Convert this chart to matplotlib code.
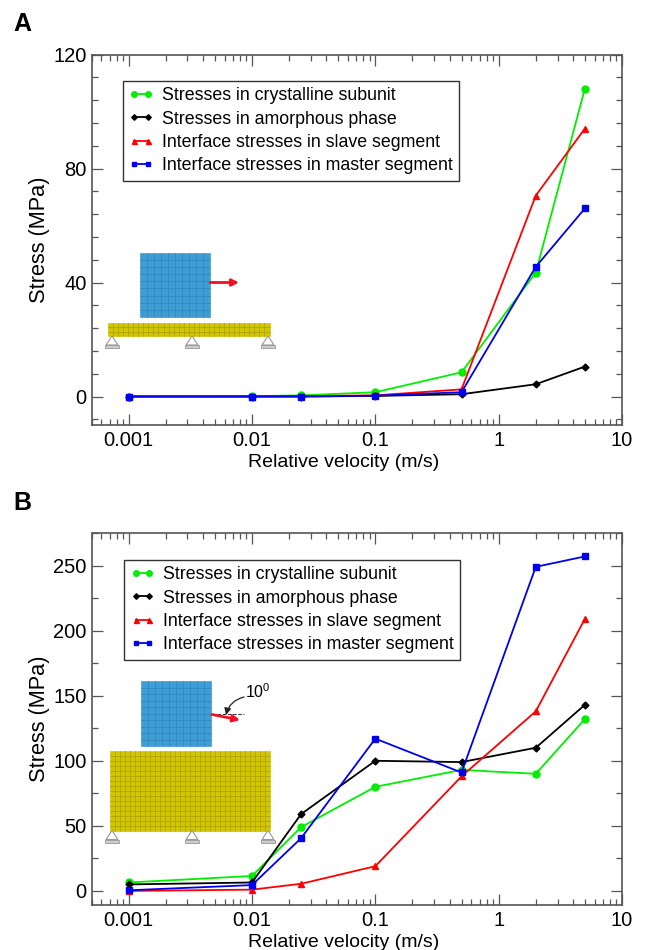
import numpy as np
import matplotlib
matplotlib.use("Agg")
import matplotlib.pyplot as plt
from matplotlib.patches import Rectangle, Polygon
from matplotlib.ticker import FixedLocator, FixedFormatter, MultipleLocator, NullFormatter

plt.rcParams['font.family'] = ['Liberation Sans', 'DejaVu Sans']

velocity = [0.001, 0.01, 0.025, 0.1, 0.5, 2, 5]
x_ticks = [0.001, 0.01, 0.1, 1, 10]
x_labels = ['0.001', '0.01', '0.1', '1', '10']

names = ['Stresses in crystalline subunit', 'Stresses in amorphous phase',
         'Interface stresses in slave segment', 'Interface stresses in master segment']

a_crystal = [0, 0.1, 0.4, 1.5, 8.5, 43.5, 108]
a_amorph = [0, 0, 0, 0.2, 0.8, 4.3, 10.5]
a_slave = [0, 0, 0.1, 0.4, 2.5, 70.5, 94]
a_master = [0, 0, 0, 0.3, 1.5, 45.5, 66]

b_crystal = [6.5, 11.5, 49, 80, 93, 90, 132]
b_amorph = [5, 6.5, 59, 100, 99, 110, 143]
b_slave = [0, 1, 5.5, 19, 88, 138, 209]
b_master = [0.5, 4.5, 40.5, 117, 91, 249, 257]

W, H = 645, 950
GREY = '#555555'


def pixel_rect(x0, y0, x1, y1):
    return [x0 / W, 1 - y1 / H, (x1 - x0) / W, (y1 - y0) / H]


def draw_panel(ax, series, ylim, yticks, yminor, legend_pos):
    styles = [('#00ee00', 'o', 5), ('black', 'D', 3.5), ('red', '^', 4.5), ('#0000ee', 's', 4)]
    for vals, name, (col, mk, ms) in zip(series, names, styles):
        ax.plot(velocity, vals, color=col, marker=mk, ms=ms, lw=1.3, label=name, clip_on=False)
    ax.set_xscale('log')
    ax.set_xlim(0.0005, 10)
    ax.set_ylim(*ylim)
    ax.xaxis.set_major_locator(FixedLocator(x_ticks))
    ax.xaxis.set_major_formatter(FixedFormatter(x_labels))
    ax.xaxis.set_minor_locator(FixedLocator(
        [m * 10.0 ** e for e in range(-4, 1) for m in range(2, 10)]))
    ax.xaxis.set_minor_formatter(NullFormatter())
    ax.set_yticks(yticks)
    ax.yaxis.set_minor_locator(MultipleLocator(yminor))
    ax.tick_params(which='major', direction='in', length=8, width=0.9, color=GREY,
                   top=True, right=True, labelsize=14.5)
    ax.tick_params(axis='y', which='major', pad=3.5)
    ax.tick_params(axis='x', which='major', pad=4)
    ax.tick_params(which='minor', direction='in', length=4, width=0.9, color=GREY,
                   top=True, right=True)
    for s in ax.spines.values():
        s.set_color(GREY)
        s.set_linewidth(1.2)
    ax.set_xlabel('Relative velocity (m/s)', fontsize=14, labelpad=0)
    ax.xaxis.set_label_coords(0.476, -0.077)
    ax.set_ylabel('Stress (MPa)', fontsize=15.7)
    ax.yaxis.set_label_coords(-0.078, 0.5)
    leg = ax.legend(loc='upper left', bbox_to_anchor=legend_pos, fontsize=12.8, fancybox=False,
                    framealpha=1, edgecolor='#333333', borderaxespad=0, borderpad=0.35,
                    labelspacing=0.36, handlelength=1.35, handletextpad=0.5, numpoints=2,
                    markerscale=0.8)
    leg.get_frame().set_linewidth(1)


def mesh(ov, x0, y0, x1, y1, cols, rows, face, line):
    ov.add_patch(Rectangle((x0, y0), x1 - x0, y1 - y0, fc=face, ec=face, lw=0.5))
    for x in np.linspace(x0, x1, cols + 1)[1:-1]:
        ov.plot([x, x], [y0, y1], color=line, lw=0.5)
    for y in np.linspace(y0, y1, rows + 1)[1:-1]:
        ov.plot([x0, x1], [y, y], color=line, lw=0.5)


def support(ov, x, y):
    ov.add_patch(Polygon([(x, y), (x - 6, y + 9), (x + 6, y + 9)], closed=True,
                         fc='white', ec='#999999', lw=0.8))
    ov.add_patch(Rectangle((x - 7, y + 9), 14, 3, fc='#cccccc', ec='#888888', lw=0.5))


fig = plt.figure(figsize=(W / 100, H / 100), dpi=100)
ax_a = fig.add_axes(pixel_rect(91.5, 54.5, 622, 425))
ax_b = fig.add_axes(pixel_rect(91.5, 533, 622, 905))

draw_panel(ax_a, [a_crystal, a_amorph, a_slave, a_master], (-10, 120), [0, 40, 80, 120], 8,
           (0.059, 0.9285))
draw_panel(ax_b, [b_crystal, b_amorph, b_slave, b_master], (-10.8, 275),
           [0, 50, 100, 150, 200, 250], 25, (0.0613, 0.9274))

# pixel overlay for the small model sketches and panel letters
ov = fig.add_axes([0, 0, 1, 1], facecolor='none')
ov.set_xlim(0, W)
ov.set_ylim(H, 0)
ov.axis('off')

BLUE, BLUE_L = '#3f9dd3', '#2f86bd'
YELLOW, YELLOW_L = '#d2c600', '#ab9f00'
ARROW = '#ee1122'

mesh(ov, 139.5, 252.5, 210, 317, 10, 9, BLUE, BLUE_L)
mesh(ov, 108, 323, 269.5, 336, 32, 3, YELLOW, YELLOW_L)
for sx in (112, 192, 268):
    support(ov, sx, 336)
ov.annotate('', xy=(239, 282.5), xytext=(210, 282.5),
            arrowprops=dict(arrowstyle='-|>', color=ARROW, lw=2, shrinkA=0, shrinkB=0))

mesh(ov, 140.5, 681, 211, 746, 10, 10, BLUE, BLUE_L)
mesh(ov, 109.5, 751, 269.5, 830.5, 32, 16, YELLOW, YELLOW_L)
for sx in (112, 192, 268):
    support(ov, sx, 830.5)
ov.annotate('', xy=(240, 720), xytext=(212, 714.5),
            arrowprops=dict(arrowstyle='-|>', color=ARROW, lw=2, shrinkA=0, shrinkB=0))
ov.plot([212, 244], [713.5, 713.5], color='#333333', lw=0.7, ls='--')
ov.annotate('', xy=(226, 715), xytext=(244, 697),
            arrowprops=dict(arrowstyle='-|>', color='#222222', lw=0.9, shrinkA=0, shrinkB=0,
                            connectionstyle='arc3,rad=0.3'))
ov.text(245, 698, r'10$^{\mathregular{0}}$', fontsize=11.5, va='baseline', ha='left')

ov.text(13, 31, 'A', fontsize=18, fontweight='bold', va='baseline')
ov.text(13, 510, 'B', fontsize=18, fontweight='bold', va='baseline')

fig.savefig('out.png', dpi=100)
